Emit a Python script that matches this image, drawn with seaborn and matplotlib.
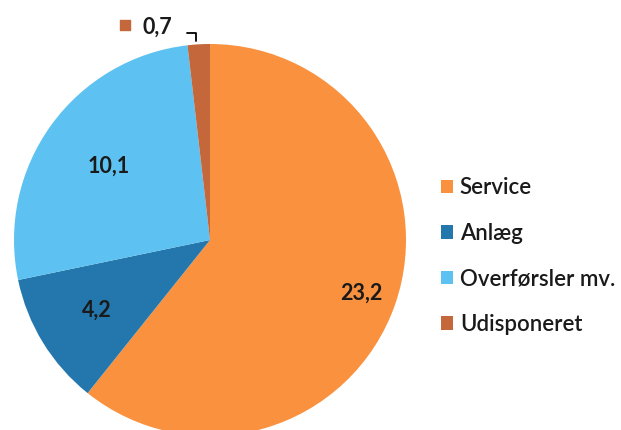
import numpy as np
import matplotlib.pyplot as plt
import seaborn as sns

# data
categories = ['Service', 'Anlæg', 'Overførsler mv.', 'Udisponeret']
values = [23.2, 4.2, 10.1, 0.7]
value_labels = ['23,2', '4,2', '10,1', '0,7']
colors = ['#F9913F', '#2377AC', '#5DC1F1', '#C4673A']

sns.set_theme(style='white')
plt.rcParams['font.family'] = ['Lato', 'DejaVu Sans']

fig = plt.figure(figsize=(6.21, 4.30), dpi=100)
ax = fig.add_axes([0, 0, 1, 1])

# 1 data unit = pie radius = 196 px, pie centre at (210, 240) px from top-left
R = 196.0
cx, cy = 210.0, 240.0

wedges, _ = ax.pie(values, colors=colors, startangle=90, counterclock=False,
                   radius=1.0, center=(0, 0), frame=True,
                   wedgeprops=dict(linewidth=0))
ax.set_xlim(-cx / R, (621 - cx) / R)
ax.set_ylim(-(430 - cy) / R, cy / R)
ax.set_aspect('equal')
ax.axis('off')

# labels inside the wedges
label_r = [0.82, 0.68, 0.64]
for w, lab, r in zip(wedges[:3], value_labels[:3], label_r):
    ang = np.deg2rad((w.theta1 + w.theta2) / 2)
    ax.text(r * np.cos(ang), r * np.sin(ang), lab, ha='center', va='center',
            fontsize=15.5, fontweight='bold', color='#1a1a1a')

# callout for the small slice
ax.text((157 - cx) / R, (cy - 27) / R, value_labels[3], ha='center', va='center',
        fontsize=15.5, fontweight='bold', color='#1a1a1a')
ax.scatter([(125 - cx) / R], [(cy - 25) / R], marker='s', s=50, color=colors[3])
ax.plot([(187 - cx) / R, (196 - cx) / R, (196 - cx) / R],
        [(cy - 33) / R, (cy - 33) / R, (cy - 41) / R], color='black', lw=1.3)

# legend
leg = ax.legend(wedges, categories, loc='center left',
                bbox_to_anchor=((421 - cx) / R, (cy - 256) / R),
                bbox_transform=ax.transData, frameon=False,
                fontsize=16, handlelength=0.55, handleheight=0.55,
                handletextpad=0.3, labelspacing=1.1)
for t in leg.get_texts():
    t.set_fontweight('semibold')
    t.set_color('#1a1a1a')

fig.savefig('out.png', dpi=100)
